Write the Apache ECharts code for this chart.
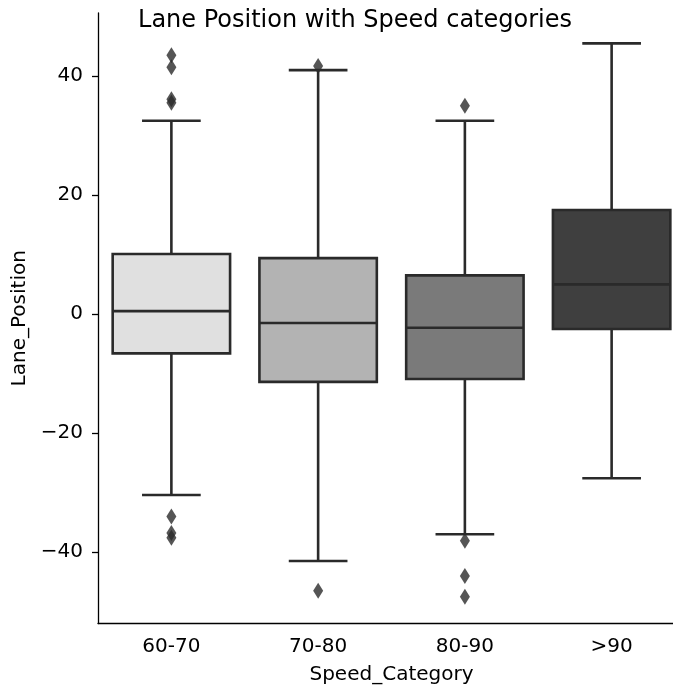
<!DOCTYPE html>
<html>
<head>
<meta charset="utf-8">
<script src="https://cdn.jsdelivr.net/npm/echarts@6/dist/echarts.min.js"></script>
<style>
  html, body { margin: 0; padding: 0; background: #fff; overflow: hidden; }
  #chart { width: 685px; height: 685px; }
</style>
</head>
<body>
<div id="chart"></div>
<script>
// data
var categories = ['60-70', '70-80', '80-90', '>90'];
var whiskerLow = [-30.4, -41.5, -37.0, -27.6];
var q1 = [-6.6, -11.4, -10.9, -2.5];
var median = [0.5, -1.5, -2.3, 5.0];
var q3 = [10.1, 9.4, 6.5, 17.5];
var whiskerHigh = [32.5, 41.0, 32.5, 45.5];
var outliers = [
  [43.5, 41.5, 36.1, 35.5, -34.0, -36.8, -37.6],
  [41.7, -46.5],
  [35.0, -38.1, -44.0, -47.5],
  []
];
var yTicks = [-40, -20, 0, 20, 40];
var boxColors = ['#e0e0e0', '#b3b3b3', '#7a7a7a', '#3f3f3f'];

var lineColor = '#2a2a2a';
var fontFam = '"DejaVu Sans", sans-serif';

var boxData = [];
for (var i = 0; i < categories.length; i++) {
  boxData.push([i, whiskerLow[i], q1[i], median[i], q3[i], whiskerHigh[i]]);
}
var outlierData = [];
for (var i = 0; i < outliers.length; i++) {
  for (var j = 0; j < outliers[i].length; j++) {
    outlierData.push([i, outliers[i][j]]);
  }
}

function renderBox(params, api) {
  var idx = api.value(0);
  var band = api.size([1, 0])[0];
  var half = band * 0.4;
  var cap = band * 0.2;
  var pLow = api.coord([idx, api.value(1)]);
  var pQ1 = api.coord([idx, api.value(2)]);
  var pMed = api.coord([idx, api.value(3)]);
  var pQ3 = api.coord([idx, api.value(4)]);
  var pHigh = api.coord([idx, api.value(5)]);
  var cx = pMed[0];
  var ls = { stroke: lineColor, lineWidth: 2.6 };
  return {
    type: 'group',
    children: [
      { type: 'line', shape: { x1: cx, y1: pQ3[1], x2: cx, y2: pHigh[1] }, style: ls },
      { type: 'line', shape: { x1: cx, y1: pQ1[1], x2: cx, y2: pLow[1] }, style: ls },
      { type: 'line', shape: { x1: cx - cap, y1: pHigh[1], x2: cx + cap, y2: pHigh[1] }, style: ls },
      { type: 'line', shape: { x1: cx - cap, y1: pLow[1], x2: cx + cap, y2: pLow[1] }, style: ls },
      { type: 'rect', shape: { x: cx - half, y: pQ3[1], width: half * 2, height: pQ1[1] - pQ3[1] },
        style: { fill: boxColors[params.dataIndex], stroke: lineColor, lineWidth: 2.6 } },
      { type: 'line', shape: { x1: cx - half, y1: pMed[1], x2: cx + half, y2: pMed[1] }, style: ls }
    ]
  };
}

var myChart = echarts.init(document.getElementById('chart'), null, { renderer: 'canvas' });
var option = {
  animation: false,
  backgroundColor: '#fff',
  title: {
    text: 'Lane Position with Speed categories',
    left: 350,
    top: 4,
    textAlign: 'center',
    textStyle: { fontFamily: fontFam, fontSize: 24, fontWeight: 'normal', color: '#000' }
  },
  grid: { left: 98, top: 13, width: 587, height: 610.5, containLabel: false, outerBoundsMode: 'none' },
  xAxis: {
    type: 'category',
    data: categories,
    name: 'Speed_Category',
    nameLocation: 'middle',
    nameGap: 41,
    nameTextStyle: { fontFamily: fontFam, fontSize: 20, color: '#000' },
    axisLine: { onZero: false, lineStyle: { color: '#000', width: 1.3 } },
    axisTick: { alignWithLabel: true, length: 6, lineStyle: { color: '#000', width: 1.3 } },
    axisLabel: { fontFamily: fontFam, fontSize: 20, color: '#000', margin: 13 },
    splitLine: { show: false }
  },
  yAxis: {
    type: 'value',
    min: -52,
    max: 50.6,
    name: 'Lane_Position',
    nameLocation: 'middle',
    nameGap: 62,
    nameTextStyle: { fontFamily: fontFam, fontSize: 20, color: '#000' },
    axisLine: { show: true, lineStyle: { color: '#000', width: 1.3 } },
    axisTick: { show: true, length: 6, customValues: yTicks, lineStyle: { color: '#000', width: 1.3 } },
    axisLabel: {
      fontFamily: fontFam, fontSize: 20, color: '#000', margin: 15,
      customValues: yTicks,
      formatter: function (v) { return v < 0 ? '\u2212' + Math.abs(v) : String(v); }
    },
    splitLine: { show: false }
  },
  series: [
    {
      type: 'custom',
      renderItem: renderBox,
      encode: { x: 0, y: [1, 2, 3, 4, 5] },
      data: boxData,
      z: 2
    },
    {
      type: 'scatter',
      symbol: 'diamond',
      symbolSize: [10, 16],
      itemStyle: { color: lineColor },
      data: outlierData,
      z: 3
    }
  ]
};
myChart.setOption(option);
</script>
</body>
</html>
